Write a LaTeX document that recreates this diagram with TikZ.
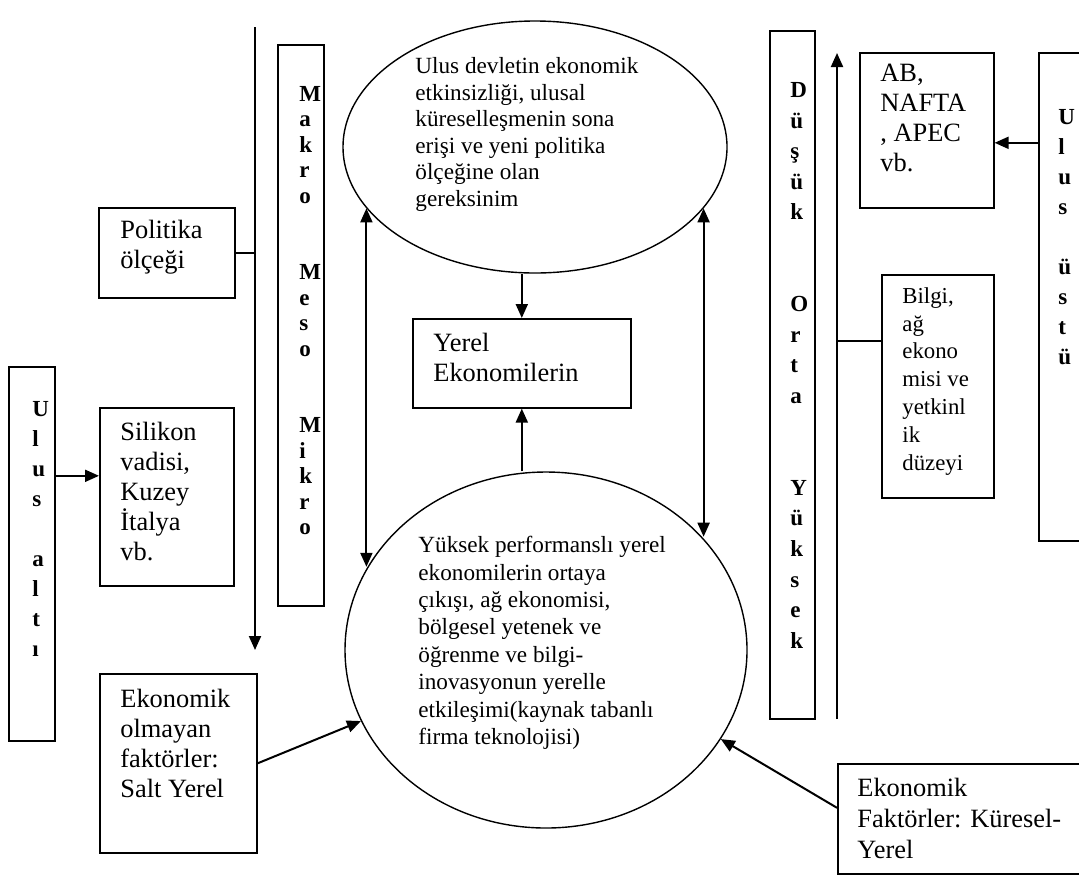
\documentclass[tikz,border=0pt]{standalone}
\usepackage{fontspec}
\setmainfont{Liberation Serif}
\usetikzlibrary{arrows.meta,shapes.geometric,calc}
\tikzset{
  box/.style={draw, line width=0.8pt, inner sep=0pt, anchor=north west},
  oval/.style={draw, ellipse, line width=0.7pt, inner sep=0pt},
  txtbase/.style={inner sep=0pt, anchor=north west, align=left, execute at begin node={\rule{0pt}{10.5pt}}},
  bigtxt/.style={txtbase, font=\fontsize{13.2}{15}\selectfont},
  smalltxt/.style={txtbase, font=\fontsize{11.6}{13.6}\selectfont},
  verttxt/.style={txtbase, font=\bfseries\fontsize{11.5}{15}\selectfont},
  arr/.style={line width=1pt, -{Triangle[length=7pt,width=6pt]}},
  darr/.style={line width=1pt, {Triangle[length=7pt,width=6pt]}-{Triangle[length=7pt,width=6pt]}},
  plain/.style={line width=1pt}
}
\begin{document}
\begin{tikzpicture}[x=0.5pt,y=-0.5pt]
\clip (0,0) rectangle (1079,874);
\fill[white] (0,0) rectangle (1079,874);

% boxes
\node[box, minimum width=68pt, minimum height=45pt] (pol) at (98,207) {};
\node[box, minimum width=67pt, minimum height=89pt] (sil) at (99,407) {};
\node[box, minimum width=78.5pt, minimum height=89.5pt] (eko) at (99,673) {};
\node[box, minimum width=23pt, minimum height=187pt] (ua) at (8,366) {};
\node[box, minimum width=23pt, minimum height=280.5pt] (mak) at (277,44) {};
\node[box, minimum width=109pt, minimum height=44.5pt] (yer) at (412,318) {};
\node[box, minimum width=22.5pt, minimum height=344pt] (dus) at (769,30) {};
\node[box, minimum width=67pt, minimum height=77.5pt] (ab) at (859,52) {};
\node[box, minimum width=30pt, minimum height=244pt] (uu) at (1038,52) {};
\node[box, minimum width=56pt, minimum height=111.5pt] (bil) at (881,274) {};
\node[box, minimum width=130pt, minimum height=55pt] (ekf) at (837,763) {};

% ellipses
\node[oval, minimum width=192pt, minimum height=126pt] (topE) at (535,147) {};
\node[oval, minimum width=201pt, minimum height=178pt] (botE) at (546,650) {};

% texts
\node[bigtxt] (polT) at ([shift={(22,13)}]pol.north west) {Politika\\ölçeği};
\node[bigtxt] (silT) at ([shift={(21,15)}]sil.north west) {Silikon\\vadisi,\\Kuzey\\İtalya\\vb.};
\node[bigtxt] (ekoT) at ([shift={(21,16)}]eko.north west) {Ekonomik\\olmayan\\faktörler:\\Salt Yerel};
\node[bigtxt] (yerT) at ([shift={(21,15)}]yer.north west) {Yerel\\Ekonomilerin};
\node[bigtxt] (abT) at ([shift={(21,12)}]ab.north west) {AB,\\NAFTA\\, APEC\\vb.};
\node[bigtxt, font=\fontsize{13.2}{15.5}\selectfont] (ekfT) at ([shift={(20,15)}]ekf.north west) {Ekonomik\\Faktörler: Küresel-\\Yerel};
\node[smalltxt, font=\fontsize{11.4}{13.9}\selectfont] (bilT) at ([shift={(21,13)}]bil.north west) {Bilgi,\\ağ\\ekono\\misi ve\\yetkinl\\ik\\düzeyi};
\node[smalltxt, font=\fontsize{11.6}{13.25}\selectfont] (topT) at ([shift={(-120,-90)}]topE.center) {Ulus devletin ekonomik\\etkinsizliği, ulusal\\küreselleşmenin sona\\erişi ve yeni politika\\ölçeğine olan\\gereksinim};
\node[smalltxt, font=\fontsize{11.6}{13.7}\selectfont] (botT) at ([shift={(-128,-114)}]botE.center) {Yüksek performanslı yerel\\ekonomilerin ortaya\\çıkışı, ağ ekonomisi,\\bölgesel yetenek ve\\öğrenme ve bilgi-\\inovasyonun yerelle\\etkileşimi(kaynak tabanlı\\firma teknolojisi)};

% vertical letter columns
\node[verttxt, font=\bfseries\fontsize{11.5}{15.3}\selectfont] (dusT) at ([shift={(21,52)}]dus.north west) {D\\ü\\ş\\ü\\k\\\mbox{}\\\mbox{}\\O\\r\\t\\a\\\mbox{}\\\mbox{}\\Y\\ü\\k\\s\\e\\k};
\node[verttxt] (uuT) at ([shift={(20,57)}]uu.north west) {U\\l\\u\\s\\\mbox{}\\ü\\s\\t\\ü};
\node[verttxt] (uaT) at ([shift={(24,35)}]ua.north west) {U\\l\\u\\s\\\mbox{}\\a\\l\\t\\ı};
\node[verttxt, font=\bfseries\fontsize{11.5}{12.75}\selectfont] (makT) at ([shift={(22,42)}]mak.north west) {M\\a\\k\\r\\o\\\mbox{}\\\mbox{}\\M\\e\\s\\o\\\mbox{}\\\mbox{}\\M\\i\\k\\r\\o};

% long vertical arrows
\coordinate (lv1) at (255,27);
\coordinate (lv2) at (255,650);
\draw[arr] (lv1) -- (lv2);
\draw[plain] (pol.east) -- (pol.east -| lv1);

\coordinate (rv1) at (837,719);
\coordinate (rv2) at (837,53);
\draw[arr] (rv1) -- (rv2);
\coordinate (bl1) at ([yshift=22.75pt]bil.west);
\draw[plain] (bl1 -| rv1) -- (bl1);

% side arrows
\coordinate (s1) at ([yshift=10.5pt]sil.west);
\draw[arr] (s1 -| ua.east) -- (s1);
\coordinate (ab1) at ([yshift=-6.25pt]ab.east);
\draw[arr] (ab1 -| uu.west) -- (ab1);

% centre arrows
\draw[arr] (yer.north |- topE.south) -- (yer.north);
\draw[arr] (yer.south |- botE.north) -- (yer.south);
\draw[darr] (topE.200) -- (topE.200 |- botE.155);
\draw[darr] (topE.340) -- (topE.340 |- botE.36);

% factor arrows
\draw[arr] (eko.east) -- (botE.201);
\draw[arr] ([yshift=5.5pt]ekf.west) -- (botE.333);
\end{tikzpicture}
\end{document}
